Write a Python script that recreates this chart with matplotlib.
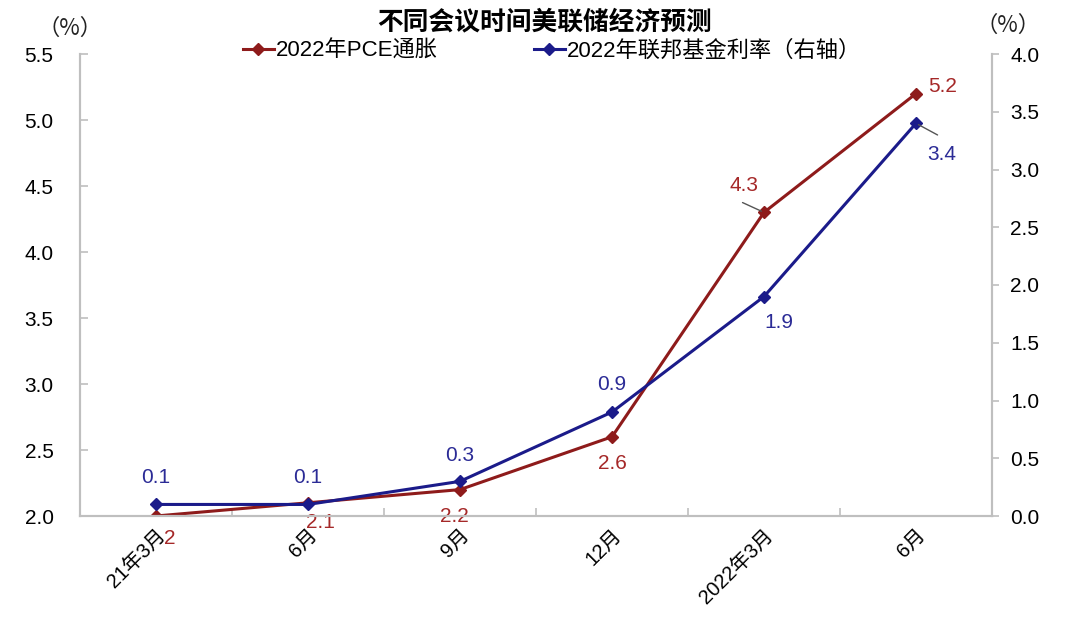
import matplotlib
matplotlib.use('Agg')
import matplotlib.pyplot as plt
from matplotlib.ticker import MultipleLocator, FixedLocator

plt.rcParams['font.family'] = ['Liberation Sans', 'Noto Sans CJK SC', 'DejaVu Sans']

categories = ['21年3月', '6月', '9月', '12月', '2022年3月', '6月']
pce = [2.0, 2.1, 2.2, 2.6, 4.3, 5.2]
fed = [0.1, 0.1, 0.3, 0.9, 1.9, 3.4]
pce_labels = ['2', '2.1', '2.2', '2.6', '4.3', '5.2']
fed_labels = ['0.1', '0.1', '0.3', '0.9', '1.9', '3.4']

red = '#8E1B1B'
navy = '#1B1B8A'
red_txt = '#A52828'
navy_txt = '#2B2B96'
grey = '#BFBFBF'

fig = plt.figure(figsize=(10.8, 6.4), dpi=100)
ax = fig.add_axes([80/1080, 1-516/640, 912/1080, 462/640])
ax2 = ax.twinx()

x = [i + 0.5 for i in range(len(categories))]
l1, = ax.plot(x, pce, color=red, lw=2.2, marker='D', ms=6.5, label='2022年PCE通胀')
l2, = ax2.plot(x, fed, color=navy, lw=2.2, marker='D', ms=6.5, label='2022年联邦基金利率（右轴）')

ax.set_xlim(0, len(categories))
ax.set_ylim(2.0, 5.5)
ax2.set_ylim(0.0, 4.0)
ax.yaxis.set_major_locator(MultipleLocator(0.5))
ax2.yaxis.set_major_locator(MultipleLocator(0.5))
ax.yaxis.set_major_formatter(plt.FormatStrFormatter('%.1f'))
ax2.yaxis.set_major_formatter(plt.FormatStrFormatter('%.1f'))

ax.set_xticks(x)
ax.set_xticklabels(categories, rotation=45, ha='right', rotation_mode='anchor', fontsize=14.5)
ax.xaxis.set_minor_locator(FixedLocator(range(len(categories) + 1)))
ax.tick_params(axis='x', which='major', length=0, pad=7)
ax.tick_params(axis='x', which='minor', length=5.5, direction='in', color=grey, width=1.2)
ax.tick_params(axis='y', length=5.5, direction='in', color=grey, width=1.2, labelsize=15, pad=19)
ax2.tick_params(axis='y', length=5, direction='out', color=grey, width=1.2, labelsize=15, pad=8)

for a in (ax, ax2):
    a.spines['top'].set_visible(False)
    for s in ('left', 'right', 'bottom'):
        a.spines[s].set_color(grey)
        a.spines[s].set_linewidth(1.5)

# label offsets (pixels)
pce_off = [(14, -22), (12, -20), (-6, -27), (0, -27), (-20, 27), (27, 7)]
fed_off = [(0, 27), (0, 27), (0, 26), (0, 28), (15, -26), (26, -31)]
for xi, v, t, o in zip(x, pce, pce_labels, pce_off):
    ax.annotate(t, (xi, v), xytext=o, textcoords='offset pixels', ha='center', va='center',
                color=red_txt, fontsize=15)
for xi, v, t, o in zip(x, fed, fed_labels, fed_off):
    ax2.annotate(t, (xi, v), xytext=o, textcoords='offset pixels', ha='center', va='center',
                 color=navy_txt, fontsize=15)

# leader lines for 4.3 and 3.4
ax.annotate('', (x[4], pce[4]), xytext=(-24, 11), textcoords='offset pixels',
            arrowprops=dict(arrowstyle='-', color='#555555', lw=1))
ax2.annotate('', (x[5], fed[5]), xytext=(24, -13), textcoords='offset pixels',
             arrowprops=dict(arrowstyle='-', color='#555555', lw=1))

fig.text(545/1080, 1-22/640, '不同会议时间美联储经济预测', ha='center', va='center',
         fontsize=18.5, fontweight='bold')
fig.text(70/1080, 1-28/640, '（%）', ha='center', va='center', fontsize=16, color='#222222',
         family=['Noto Sans CJK SC', 'DejaVu Sans'])
fig.text(1008/1080, 1-25/640, '（%）', ha='center', va='center', fontsize=16, color='#222222',
         family=['Noto Sans CJK SC', 'DejaVu Sans'])

fig.legend(handles=[l1, l2], loc='center', bbox_to_anchor=(552/1080, 1-51/640), ncol=2,
           frameon=False, fontsize=16, columnspacing=4.3, handlelength=1.4, handletextpad=0.1,
           borderaxespad=0, borderpad=0)

fig.savefig('out.png', dpi=100)
